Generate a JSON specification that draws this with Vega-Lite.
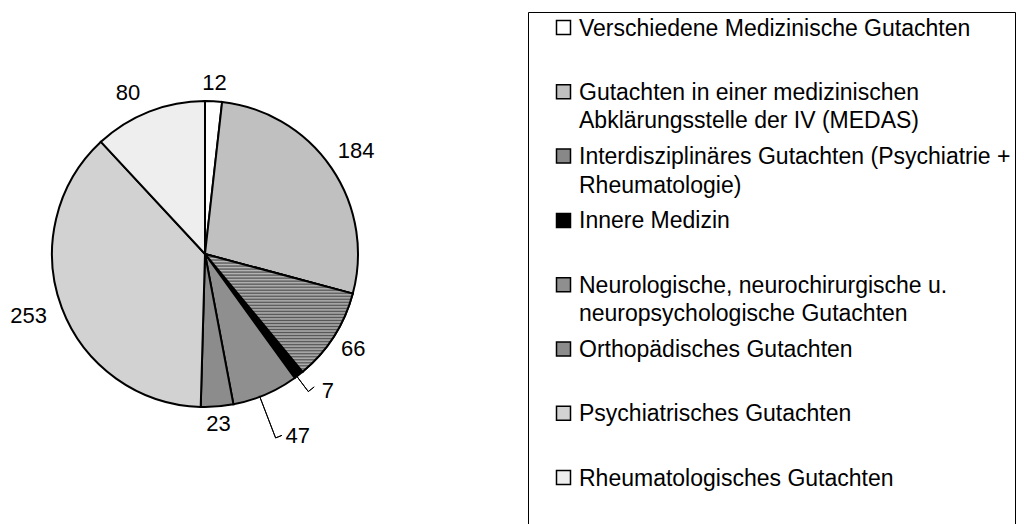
{
  "$schema": "https://vega.github.io/schema/vega-lite/v6.json",
  "padding": {"left": 0, "top": 11, "right": 0, "bottom": 0},
  "width": 410,
  "height": 484,
  "view": {"stroke": null},
  "config": {"font": "Liberation Sans"},
  "data": {
    "values": [
      {"cat": "Verschiedene Medizinische Gutachten", "value": 12, "idx": 1},
      {"cat": "Gutachten in einer medizinischen\nAbklärungsstelle der IV (MEDAS)", "value": 184, "idx": 2},
      {"cat": "Interdisziplinäres Gutachten (Psychiatrie +\nRheumatologie)", "value": 66, "idx": 3},
      {"cat": "Innere Medizin", "value": 7, "idx": 4},
      {"cat": "Neurologische, neurochirurgische u.\nneuropsychologische Gutachten", "value": 47, "idx": 5},
      {"cat": "Orthopädisches Gutachten", "value": 23, "idx": 6},
      {"cat": "Psychiatrisches Gutachten", "value": 253, "idx": 7},
      {"cat": "Rheumatologisches Gutachten", "value": 80, "idx": 8}
    ]
  },
  "transform": [
    {"stack": "value", "groupby": [], "sort": [{"field": "idx", "order": "ascending"}], "as": ["v0", "v1"]},
    {"calculate": "(datum.v0 + datum.v1) / 2", "as": "vmid"}
  ],
  "layer": [
    {
      "mark": {"type": "arc", "outerRadius": 153, "stroke": "black", "strokeWidth": 2},
      "encoding": {
        "theta": {"field": "v0", "type": "quantitative", "scale": {"domain": [0, 672]}},
        "theta2": {"field": "v1"},
        "fill": {
          "field": "cat",
          "type": "nominal",
          "sort": null,
          "scale": {
            "domain": [
              "Verschiedene Medizinische Gutachten",
              "Gutachten in einer medizinischen\nAbklärungsstelle der IV (MEDAS)",
              "Interdisziplinäres Gutachten (Psychiatrie +\nRheumatologie)",
              "Innere Medizin",
              "Neurologische, neurochirurgische u.\nneuropsychologische Gutachten",
              "Orthopädisches Gutachten",
              "Psychiatrisches Gutachten",
              "Rheumatologisches Gutachten"
            ],
            "range": ["#ffffff", "#c0c0c0", "#888888", "#000000", "#8f8f8f", "#8c8c8c", "#d2d2d2", "#eeeeee"]
          },
          "legend": {
            "title": null,
            "orient": "right",
            "offset": 118,
            "padding": 4,
            "strokeColor": "black",
            "fillColor": "white",
            "symbolType": "square",
            "symbolSize": 196,
            "symbolStrokeColor": "black",
            "symbolStrokeWidth": 1.5,
            "symbolOffset": 20,
            "labelOffset": 4,
            "labelFont": "Liberation Sans",
            "labelFontSize": 23,
            "labelColor": "black",
            "labelLimit": 1000,
            "labelBaseline": "alphabetic",
            "rowPadding": 10.3,
            "labelExpr": "indexof(datum.label, '\\n') < 0 ? [datum.label + '        ', ' '] : [split(datum.label, '\\n')[0] + '        ', split(datum.label, '\\n')[1]]",
            "encode": {"labels": {"update": {"dy": {"value": 8}, "lineHeight": {"value": 28.6}}}}
          }
        }
      }
    },
    {
      "transform": [{"filter": "datum.idx == 3"}],
      "mark": {"type": "arc", "outerRadius": 153, "stroke": "black", "strokeWidth": 2,
        "fill": {"gradient": "linear", "x1": 0, "y1": 0, "x2": 0, "y2": 1, "stops": [
            {"offset": 0, "color": "#555555"}, {"offset": 0.0128, "color": "#bbbbbb"},
            {"offset": 0.0256, "color": "#555555"}, {"offset": 0.0385, "color": "#bbbbbb"},
            {"offset": 0.0513, "color": "#555555"}, {"offset": 0.0641, "color": "#bbbbbb"},
            {"offset": 0.0769, "color": "#555555"}, {"offset": 0.0897, "color": "#bbbbbb"},
            {"offset": 0.1026, "color": "#555555"}, {"offset": 0.1154, "color": "#bbbbbb"},
            {"offset": 0.1282, "color": "#555555"}, {"offset": 0.1410, "color": "#bbbbbb"},
            {"offset": 0.1538, "color": "#555555"}, {"offset": 0.1667, "color": "#bbbbbb"},
            {"offset": 0.1795, "color": "#555555"}, {"offset": 0.1923, "color": "#bbbbbb"},
            {"offset": 0.2051, "color": "#555555"}, {"offset": 0.2179, "color": "#bbbbbb"},
            {"offset": 0.2308, "color": "#555555"}, {"offset": 0.2436, "color": "#bbbbbb"},
            {"offset": 0.2564, "color": "#555555"}, {"offset": 0.2692, "color": "#bbbbbb"},
            {"offset": 0.2821, "color": "#555555"}, {"offset": 0.2949, "color": "#bbbbbb"},
            {"offset": 0.3077, "color": "#555555"}, {"offset": 0.3205, "color": "#bbbbbb"},
            {"offset": 0.3333, "color": "#555555"}, {"offset": 0.3462, "color": "#bbbbbb"},
            {"offset": 0.3590, "color": "#555555"}, {"offset": 0.3718, "color": "#bbbbbb"},
            {"offset": 0.3846, "color": "#555555"}, {"offset": 0.3974, "color": "#bbbbbb"},
            {"offset": 0.4103, "color": "#555555"}, {"offset": 0.4231, "color": "#bbbbbb"},
            {"offset": 0.4359, "color": "#555555"}, {"offset": 0.4487, "color": "#bbbbbb"},
            {"offset": 0.4615, "color": "#555555"}, {"offset": 0.4744, "color": "#bbbbbb"},
            {"offset": 0.4872, "color": "#555555"}, {"offset": 0.5000, "color": "#bbbbbb"},
            {"offset": 0.5128, "color": "#555555"}, {"offset": 0.5256, "color": "#bbbbbb"},
            {"offset": 0.5385, "color": "#555555"}, {"offset": 0.5513, "color": "#bbbbbb"},
            {"offset": 0.5641, "color": "#555555"}, {"offset": 0.5769, "color": "#bbbbbb"},
            {"offset": 0.5897, "color": "#555555"}, {"offset": 0.6026, "color": "#bbbbbb"},
            {"offset": 0.6154, "color": "#555555"}, {"offset": 0.6282, "color": "#bbbbbb"},
            {"offset": 0.6410, "color": "#555555"}, {"offset": 0.6538, "color": "#bbbbbb"},
            {"offset": 0.6667, "color": "#555555"}, {"offset": 0.6795, "color": "#bbbbbb"},
            {"offset": 0.6923, "color": "#555555"}, {"offset": 0.7051, "color": "#bbbbbb"},
            {"offset": 0.7179, "color": "#555555"}, {"offset": 0.7308, "color": "#bbbbbb"},
            {"offset": 0.7436, "color": "#555555"}, {"offset": 0.7564, "color": "#bbbbbb"},
            {"offset": 0.7692, "color": "#555555"}, {"offset": 0.7821, "color": "#bbbbbb"},
            {"offset": 0.7949, "color": "#555555"}, {"offset": 0.8077, "color": "#bbbbbb"},
            {"offset": 0.8205, "color": "#555555"}, {"offset": 0.8333, "color": "#bbbbbb"},
            {"offset": 0.8462, "color": "#555555"}, {"offset": 0.8590, "color": "#bbbbbb"},
            {"offset": 0.8718, "color": "#555555"}, {"offset": 0.8846, "color": "#bbbbbb"},
            {"offset": 0.8974, "color": "#555555"}, {"offset": 0.9103, "color": "#bbbbbb"},
            {"offset": 0.9231, "color": "#555555"}, {"offset": 0.9359, "color": "#bbbbbb"},
            {"offset": 0.9487, "color": "#555555"}, {"offset": 0.9615, "color": "#bbbbbb"},
            {"offset": 0.9744, "color": "#555555"}, {"offset": 0.9872, "color": "#bbbbbb"},
            {"offset": 1, "color": "#555555"}
        ]}
      },
      "encoding": {
        "theta": {"field": "v0", "type": "quantitative"},
        "theta2": {"field": "v1"}
      }
    },
    {
      "transform": [{"filter": "datum.idx == 4"}],
      "mark": {"type": "arc", "innerRadius": 152, "outerRadius": 172, "thetaOffset": 0.04787, "theta2Offset": -0.01758, "filled": false, "stroke": "black", "strokeWidth": 1},
      "encoding": {"theta": {"field": "v0", "type": "quantitative"}, "theta2": {"field": "v1"}}
    },
    {
      "transform": [{"filter": "datum.idx == 4"}],
      "mark": {"type": "arc", "innerRadius": 172, "outerRadius": 172, "thetaOffset": 0.00424, "theta2Offset": -0.01758, "filled": false, "stroke": "black", "strokeWidth": 1},
      "encoding": {"theta": {"field": "v0", "type": "quantitative"}, "theta2": {"field": "v1"}}
    },
    {
      "transform": [{"filter": "datum.idx == 5"}],
      "mark": {"type": "arc", "innerRadius": 152, "outerRadius": 197, "thetaOffset": 0.25994, "theta2Offset": -0.17952, "filled": false, "stroke": "black", "strokeWidth": 1},
      "encoding": {"theta": {"field": "v0", "type": "quantitative"}, "theta2": {"field": "v1"}}
    },
    {
      "transform": [{"filter": "datum.idx == 5"}],
      "mark": {"type": "arc", "innerRadius": 197, "outerRadius": 197, "thetaOffset": 0.22503, "theta2Offset": -0.17952, "filled": false, "stroke": "black", "strokeWidth": 1},
      "encoding": {"theta": {"field": "v0", "type": "quantitative"}, "theta2": {"field": "v1"}}
    },
    {
      "transform": [{"filter": "datum.value == 12 || datum.value == 23"}],
      "mark": {"type": "text", "radius": 171, "fontSize": 22, "align": "center", "baseline": "middle", "fill": "black"},
      "encoding": {"theta": {"field": "vmid", "type": "quantitative"}, "text": {"field": "value", "type": "quantitative"}}
    },
    {
      "transform": [{"filter": "datum.value == 66"}],
      "mark": {"type": "text", "radius": 176, "fontSize": 22, "align": "center", "baseline": "middle", "fill": "black"},
      "encoding": {"theta": {"field": "vmid", "type": "quantitative"}, "text": {"field": "value", "type": "quantitative"}}
    },
    {
      "transform": [{"filter": "datum.value == 184"}],
      "mark": {"type": "text", "radius": 183, "fontSize": 22, "align": "center", "baseline": "middle", "fill": "black"},
      "encoding": {"theta": {"field": "vmid", "type": "quantitative"}, "text": {"field": "value", "type": "quantitative"}}
    },
    {
      "transform": [{"filter": "datum.value == 80"}],
      "mark": {"type": "text", "radius": 178, "thetaOffset": -0.073, "fontSize": 22, "align": "center", "baseline": "middle", "fill": "black"},
      "encoding": {"theta": {"field": "vmid", "type": "quantitative"}, "text": {"field": "value", "type": "quantitative"}}
    },
    {
      "transform": [{"filter": "datum.value == 253"}],
      "mark": {"type": "text", "radius": 187, "thetaOffset": 0.021, "fontSize": 22, "align": "center", "baseline": "middle", "fill": "black"},
      "encoding": {"theta": {"field": "vmid", "type": "quantitative"}, "text": {"field": "value", "type": "quantitative"}}
    },
    {
      "transform": [{"filter": "datum.value == 7"}],
      "mark": {"type": "text", "radius": 184, "thetaOffset": -0.072, "fontSize": 22, "align": "center", "baseline": "middle", "fill": "black"},
      "encoding": {"theta": {"field": "vmid", "type": "quantitative"}, "text": {"field": "value", "type": "quantitative"}}
    },
    {
      "transform": [{"filter": "datum.value == 47"}],
      "mark": {"type": "text", "radius": 204, "thetaOffset": -0.065, "fontSize": 22, "align": "center", "baseline": "middle", "fill": "black"},
      "encoding": {"theta": {"field": "vmid", "type": "quantitative"}, "text": {"field": "value", "type": "quantitative"}}
    }
  ]
}
